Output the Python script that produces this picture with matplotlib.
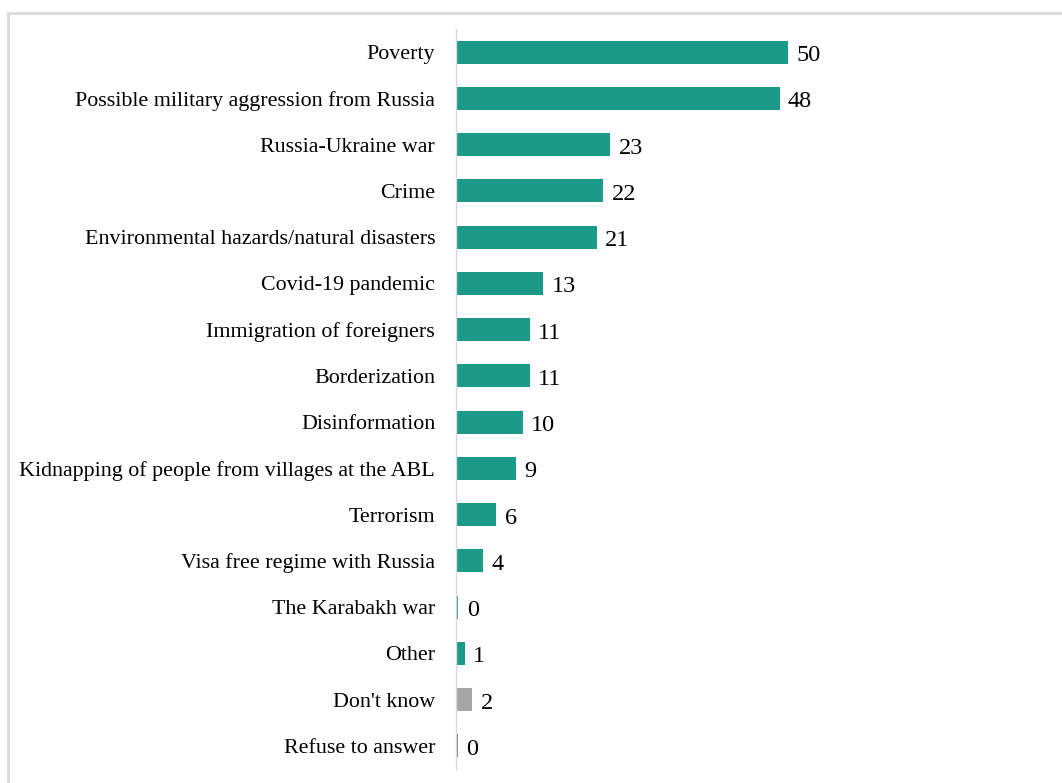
import matplotlib
matplotlib.use("Agg")
import matplotlib.pyplot as plt
from matplotlib.patches import Rectangle

categories = ["Poverty", "Possible military aggression from Russia", "Russia-Ukraine war",
              "Crime", "Environmental hazards/natural disasters", "Covid-19 pandemic",
              "Immigration of foreigners", "Borderization", "Disinformation",
              "Kidnapping of people from villages at the ABL", "Terrorism",
              "Visa free regime with Russia", "The Karabakh war", "Other",
              "Don't know", "Refuse to answer"]
values = [49.6, 48.3, 23, 22, 21, 13, 11, 11, 10, 9, 6, 4, 0.35, 1.3, 2.4, 0.3]
labels = ["50", "48", "23", "22", "21", "13", "11", "11", "10", "9", "6", "4", "0", "1", "2", "0"]
teal = "#1b9a8a"
colors = [teal] * 14 + ["#a6a6a6", "#7f7f7f"]

plt.rcParams['font.family'] = ['Liberation Serif', 'DejaVu Serif']

fig = plt.figure(figsize=(10.62, 7.83), dpi=100)
W, H = 1062, 783
# outer border
fig.patches.append(Rectangle((8 / W, -0.1), 1.2, (H - 13) / H + 0.1, transform=fig.transFigure,
                             fill=False, edgecolor="#d9d9d9", linewidth=2))

ax = fig.add_axes([456 / W, 1 - 769 / H, (1040 - 456) / W, (769 - 29) / H])
y = list(range(len(categories)))
ax.barh(y, values, height=0.5, color=colors)
ax.set_ylim(len(categories) - 0.5, -0.5)
ax.set_xlim(0, (1040 - 456) / 6.7)
ax.set_yticks(y)
ax.set_yticklabels(categories, fontsize=15.8)
ax.tick_params(axis="y", length=0, pad=15)
ax.set_xticks([])
for s in ["top", "right", "bottom"]:
    ax.spines[s].set_visible(False)
ax.spines["left"].set_color("#d9d9d9")
ax.spines["left"].set_linewidth(1)

for yi, v, lab in zip(y, values, labels):
    ax.annotate(lab, (v, yi), xytext=(6, -2.5), textcoords="offset points",
                va="center", ha="left", fontsize=17.5)

fig.savefig("out.png", dpi=100)
